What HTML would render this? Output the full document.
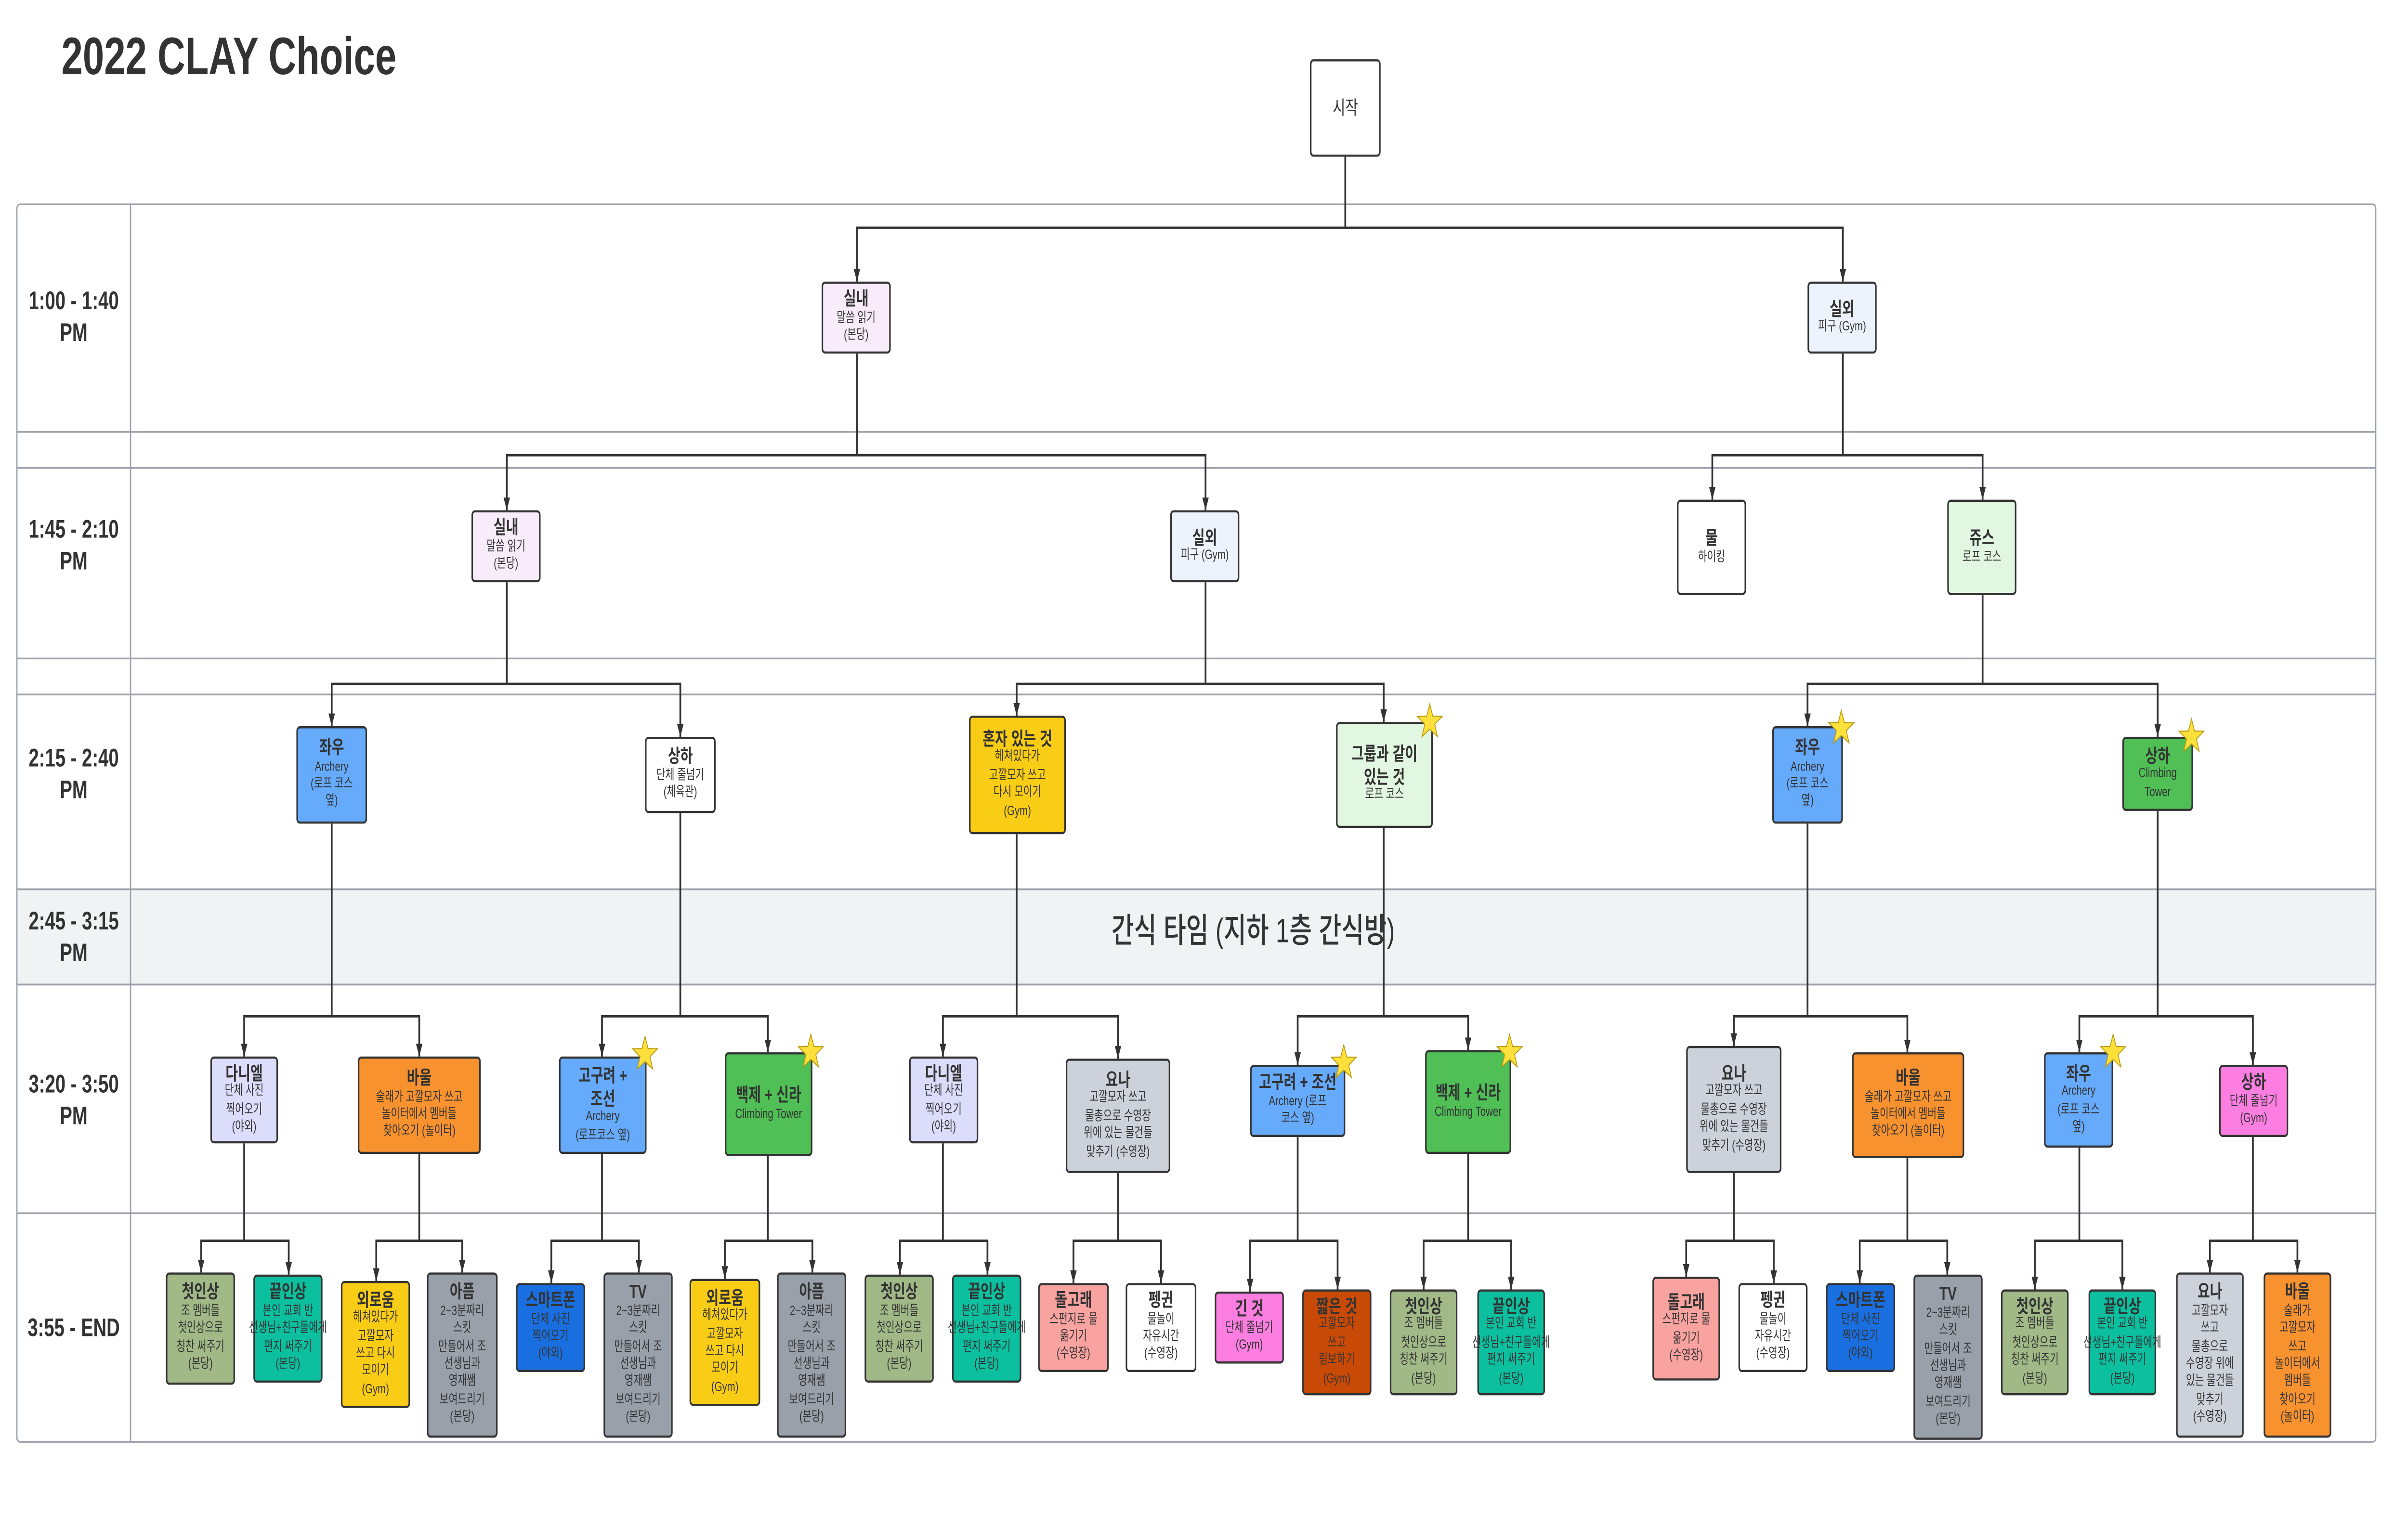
<!DOCTYPE html>
<html><head><meta charset="utf-8">
<style>
html,body{margin:0;padding:0;background:#fff;}
body{width:100vw;height:100vh;overflow:hidden;position:relative;}
#c{position:absolute;left:0;top:0;width:1568px;height:716px;transform:scale(4.3954);transform-origin:0 0;font-family:"Liberation Sans","Noto Sans CJK KR",sans-serif;color:#333;}
.n{position:absolute;box-sizing:border-box;border:1.15px solid #333;border-radius:2.2px;display:flex;flex-direction:column;justify-content:center;align-items:center;text-align:center;font-size:6.4px;line-height:8.4px;white-space:nowrap;overflow:visible;}
.n b{font-size:8.8px;line-height:10.5px;font-weight:bold;}
.lab{position:absolute;left:11px;width:74px;text-align:center;font-weight:bold;font-size:12px;line-height:15px;color:#333;}
svg{position:absolute;left:0;top:0;}
</style></head><body>
<div id="c">
<svg width="1568" height="716" viewBox="0 0 1568 716">
<defs><marker id="a" markerUnits="userSpaceOnUse" markerWidth="6" markerHeight="6" refX="6" refY="3" orient="auto" viewBox="0 0 6 6"><path d="M0,0.9 L6,3 L0,5.1 Z" fill="#333"/></marker></defs>
<g stroke="#9ba0a9" stroke-width="0.8" fill="none">
<rect x="11" y="96.5" width="1536" height="584.5" rx="2" fill="#fff"/>
<rect x="11" y="420" width="1536" height="45" fill="#f1f2f4"/>
<line x1="11" y1="204" x2="1547" y2="204"/>
<line x1="11" y1="221" x2="1547" y2="221"/>
<line x1="11" y1="311" x2="1547" y2="311"/>
<line x1="11" y1="328" x2="1547" y2="328"/>
<line x1="11" y1="420" x2="1547" y2="420"/>
<line x1="11" y1="465" x2="1547" y2="465"/>
<line x1="11" y1="573" x2="1547" y2="573"/>
<line x1="85" y1="96.5" x2="85" y2="681"/>
</g>
<g stroke="#333" stroke-width="1.15" fill="none" marker-end="url(#a)">
<path d="M876,74 V107.6 H558 V133"/><path d="M876,107.6 H1200 V133"/>
<path d="M558,167 V215 H330 V241"/><path d="M558,215 H785 V241"/>
<path d="M1200,167 V215 H1115 V236"/><path d="M1200,215 H1291 V236"/>
<path d="M330,275 V323 H216 V343"/><path d="M330,323 H443 V348"/>
<path d="M785,275 V323 H662 V338"/><path d="M785,323 H901 V341"/>
<path d="M1291,281 V323 H1177 V343"/><path d="M1291,323 H1405 V348"/>
<path d="M216,389 V480 H159 V499"/><path d="M216,480 H273 V499"/>
<path d="M443,384 V480 H392 V499"/><path d="M443,480 H500 V497"/>
<path d="M662,394 V480 H614 V499"/><path d="M662,480 H728 V500"/>
<path d="M901,391 V480 H845 V503"/><path d="M901,480 H956 V496"/>
<path d="M1177,389 V480 H1129 V494"/><path d="M1177,480 H1242 V497"/>
<path d="M1405,383 V480 H1354 V497"/><path d="M1405,480 H1467 V503"/>
<path d="M159,540 V586 H131 V601"/><path d="M159,586 H188 V602"/>
<path d="M273,545 V586 H245 V605"/><path d="M273,586 H301 V601"/>
<path d="M392,545 V586 H359 V606"/><path d="M392,586 H416 V601"/>
<path d="M500,546 V586 H472 V604"/><path d="M500,586 H529 V601"/>
<path d="M614,540 V586 H586 V602"/><path d="M614,586 H643 V602"/>
<path d="M728,554 V586 H699 V606"/><path d="M728,586 H756 V606"/>
<path d="M845,537 V586 H814 V610"/><path d="M845,586 H871 V609"/>
<path d="M956,545 V586 H927 V609"/><path d="M956,586 H984 V609"/>
<path d="M1129,554 V586 H1098 V603"/><path d="M1129,586 H1155 V606"/>
<path d="M1242,547 V586 H1211 V606"/><path d="M1242,586 H1268 V602"/>
<path d="M1354,542 V586 H1325 V609"/><path d="M1354,586 H1382 V609"/>
<path d="M1467,537 V586 H1439 V601"/><path d="M1467,586 H1496 V601"/>
</g>
</svg>

<div style="position:absolute;left:40px;top:12px;font-size:25px;font-weight:bold;line-height:30px;">2022 CLAY Choice</div>

<div class="lab" style="top:135px">1:00 - 1:40<br>PM</div>
<div class="lab" style="top:243px">1:45 - 2:10<br>PM</div>
<div class="lab" style="top:351px">2:15 - 2:40<br>PM</div>
<div class="lab" style="top:428px">2:45 - 3:15<br>PM</div>
<div class="lab" style="top:505px">3:20 - 3:50<br>PM</div>
<div class="lab" style="top:620px">3:55 - END</div>

<div style="position:absolute;left:85px;width:1462px;top:430px;text-align:center;font-size:16px;line-height:22px;font-weight:500;">간식 타임 (지하 1층 간식방)</div>

<div class="n" style="left:853px;top:28px;width:46px;height:46px;background:#fff;font-size:9px">시작</div>

<div class="n" style="left:535px;top:133px;width:45px;height:34px;background:#f8ecfb"><b>실내</b>말씀 읽기<br>(본당)</div>
<div class="n" style="left:1177px;top:133px;width:45px;height:34px;background:#edf3fc"><b>실외</b>피구 (Gym)</div>

<div class="n" style="left:307px;top:241px;width:45px;height:34px;background:#f8ecfb"><b>실내</b>말씀 읽기<br>(본당)</div>
<div class="n" style="left:762px;top:241px;width:45px;height:34px;background:#edf3fc"><b>실외</b>피구 (Gym)</div>
<div class="n" style="left:1092px;top:236px;width:45px;height:45px;background:#fff"><b>물</b>하이킹</div>
<div class="n" style="left:1268px;top:236px;width:45px;height:45px;background:#e2f7e1"><b>쥬스</b>로프 코스</div>

<div class="n" style="left:193px;top:343px;width:46px;height:46px;background:#66aafc"><b>좌우</b>Archery<br>(로프 코스<br>옆)</div>
<div class="n" style="left:420px;top:348px;width:46px;height:36px;background:#fff"><b>상하</b>단체 줄넘기<br>(체육관)</div>
<div class="n" style="left:631px;top:338px;width:63px;height:56px;background:#f9cc16"><b>혼자 있는 것</b>헤쳐있다가<br>고깔모자 쓰고<br>다시 모이기<br>(Gym)</div>
<div class="n" style="left:870px;top:341px;width:63px;height:50px;background:#e2f7e1"><b>그룹과 같이<br>있는 것</b>로프 코스</div>
<div class="n" style="left:1154px;top:343px;width:46px;height:46px;background:#66aafc"><b>좌우</b>Archery<br>(로프 코스<br>옆)</div>
<div class="n" style="left:1382px;top:348px;width:46px;height:35px;background:#4fbf56"><b>상하</b>Climbing<br>Tower</div>

<div class="n" style="left:137px;top:499px;width:44px;height:41px;background:#dcdcfb"><b>다니엘</b>단체 사진<br>찍어오기<br>(야외)</div>
<div class="n" style="left:233px;top:499px;width:80px;height:46px;background:#f8922f"><b>바울</b>술래가 고깔모자 쓰고<br>놀이터에서 멤버들<br>찾아오기 (놀이터)</div>
<div class="n" style="left:364px;top:499px;width:57px;height:46px;background:#66aafc"><b>고구려 +<br>조선</b>Archery<br>(로프코스 옆)</div>
<div class="n" style="left:472px;top:497px;width:57px;height:49px;background:#4fbf56"><b>백제 + 신라</b>Climbing Tower</div>
<div class="n" style="left:592px;top:499px;width:45px;height:41px;background:#dcdcfb"><b>다니엘</b>단체 사진<br>찍어오기<br>(야외)</div>
<div class="n" style="left:694px;top:500px;width:68px;height:54px;background:#cdd2da"><b>요나</b>고깔모자 쓰고<br>물총으로 수영장<br>위에 있는 물건들<br>맞추기 (수영장)</div>
<div class="n" style="left:814px;top:503px;width:62px;height:34px;background:#66aafc"><b>고구려 + 조선</b>Archery (로프<br>코스 옆)</div>
<div class="n" style="left:928px;top:496px;width:56px;height:49px;background:#4fbf56"><b>백제 + 신라</b>Climbing Tower</div>
<div class="n" style="left:1098px;top:494px;width:62px;height:60px;background:#cdd2da"><b>요나</b>고깔모자 쓰고<br>물총으로 수영장<br>위에 있는 물건들<br>맞추기 (수영장)</div>
<div class="n" style="left:1206px;top:497px;width:73px;height:50px;background:#f8922f"><b>바울</b>술래가 고깔모자 쓰고<br>놀이터에서 멤버들<br>찾아오기 (놀이터)</div>
<div class="n" style="left:1331px;top:497px;width:45px;height:45px;background:#66aafc"><b>좌우</b>Archery<br>(로프 코스<br>옆)</div>
<div class="n" style="left:1445px;top:503px;width:45px;height:34px;background:#fb7ee0"><b>상하</b>단체 줄넘기<br>(Gym)</div>

<div class="n" style="left:108px;top:601px;width:45px;height:53px;background:#a0b987"><b>첫인상</b>조 멤버들<br>첫인상으로<br>칭찬 써주기<br>(본당)</div>
<div class="n" style="left:165px;top:602px;width:45px;height:51px;background:#0bbf9f"><b>끝인상</b>본인 교회 반<br>선생님+친구들에게<br>편지 써주기<br>(본당)</div>
<div class="n" style="left:222px;top:605px;width:45px;height:60px;background:#f9cc16"><b>외로움</b>헤쳐있다가<br>고깔모자<br>쓰고 다시<br>모이기<br>(Gym)</div>
<div class="n" style="left:278px;top:601px;width:46px;height:78px;background:#9aa0aa"><b>아픔</b>2~3분짜리<br>스킷<br>만들어서 조<br>선생님과<br>영재쌤<br>보여드리기<br>(본당)</div>
<div class="n" style="left:336px;top:606px;width:45px;height:42px;background:#1a6fe0"><b>스마트폰</b>단체 사진<br>찍어오기<br>(야외)</div>
<div class="n" style="left:393px;top:601px;width:45px;height:78px;background:#9aa0aa"><b>TV</b>2~3분짜리<br>스킷<br>만들어서 조<br>선생님과<br>영재쌤<br>보여드리기<br>(본당)</div>
<div class="n" style="left:449px;top:604px;width:46px;height:60px;background:#f9cc16"><b>외로움</b>헤쳐있다가<br>고깔모자<br>쓰고 다시<br>모이기<br>(Gym)</div>
<div class="n" style="left:506px;top:601px;width:45px;height:78px;background:#9aa0aa"><b>아픔</b>2~3분짜리<br>스킷<br>만들어서 조<br>선생님과<br>영재쌤<br>보여드리기<br>(본당)</div>
<div class="n" style="left:563px;top:602px;width:45px;height:51px;background:#a0b987"><b>첫인상</b>조 멤버들<br>첫인상으로<br>칭찬 써주기<br>(본당)</div>
<div class="n" style="left:620px;top:602px;width:45px;height:51px;background:#0bbf9f"><b>끝인상</b>본인 교회 반<br>선생님+친구들에게<br>편지 써주기<br>(본당)</div>
<div class="n" style="left:676px;top:606px;width:46px;height:42px;background:#f9a3a0"><b>돌고래</b>스펀지로 물<br>옮기기<br>(수영장)</div>
<div class="n" style="left:733px;top:606px;width:46px;height:42px;background:#fff"><b>펭귄</b>물놀이<br>자유시간<br>(수영장)</div>
<div class="n" style="left:791px;top:610px;width:45px;height:34px;background:#fb7ee0"><b>긴 것</b>단체 줄넘기<br>(Gym)</div>
<div class="n" style="left:848px;top:609px;width:45px;height:50px;background:#c94a06"><b>짧은 것</b>고깔모자<br>쓰고<br>림보하기<br>(Gym)</div>
<div class="n" style="left:905px;top:609px;width:44px;height:50px;background:#a0b987"><b>첫인상</b>조 멤버들<br>첫인상으로<br>칭찬 써주기<br>(본당)</div>
<div class="n" style="left:962px;top:609px;width:44px;height:50px;background:#0bbf9f"><b>끝인상</b>본인 교회 반<br>선생님+친구들에게<br>편지 써주기<br>(본당)</div>
<div class="n" style="left:1076px;top:603px;width:44px;height:49px;background:#f9a3a0"><b>돌고래</b>스펀지로 물<br>옮기기<br>(수영장)</div>
<div class="n" style="left:1132px;top:606px;width:45px;height:42px;background:#fff"><b>펭귄</b>물놀이<br>자유시간<br>(수영장)</div>
<div class="n" style="left:1189px;top:606px;width:45px;height:42px;background:#1a6fe0"><b>스마트폰</b>단체 사진<br>찍어오기<br>(야외)</div>
<div class="n" style="left:1246px;top:602px;width:45px;height:78px;background:#9aa0aa"><b>TV</b>2~3분짜리<br>스킷<br>만들어서 조<br>선생님과<br>영재쌤<br>보여드리기<br>(본당)</div>
<div class="n" style="left:1303px;top:609px;width:44px;height:50px;background:#a0b987"><b>첫인상</b>조 멤버들<br>첫인상으로<br>칭찬 써주기<br>(본당)</div>
<div class="n" style="left:1360px;top:609px;width:44px;height:50px;background:#0bbf9f"><b>끝인상</b>본인 교회 반<br>선생님+친구들에게<br>편지 써주기<br>(본당)</div>
<div class="n" style="left:1417px;top:601px;width:44px;height:78px;background:#cdd2da"><b>요나</b>고깔모자<br>쓰고<br>물총으로<br>수영장 위에<br>있는 물건들<br>맞추기<br>(수영장)</div>
<div class="n" style="left:1474px;top:601px;width:44px;height:78px;background:#f8922f"><b>바울</b>술래가<br>고깔모자<br>쓰고<br>놀이터에서<br>멤버들<br>찾아오기<br>(놀이터)</div>

<svg width="1568" height="716" viewBox="0 0 1568 716">
<defs><polygon id="s" points="0,-1 0.235,-0.324 0.951,-0.309 0.380,0.124 0.588,0.809 0,0.4 -0.588,0.809 -0.380,0.124 -0.951,-0.309 -0.235,-0.324" fill="#fde03c" stroke="#b89a10" stroke-width="0.06"/></defs>
<use href="#s" transform="translate(931,341) scale(8.5)"/>
<use href="#s" transform="translate(1199,344) scale(8.5)"/>
<use href="#s" transform="translate(1427,348) scale(8.5)"/>
<use href="#s" transform="translate(420,498) scale(8.5)"/>
<use href="#s" transform="translate(528,497) scale(8.5)"/>
<use href="#s" transform="translate(875,502) scale(8.5)"/>
<use href="#s" transform="translate(983,497) scale(8.5)"/>
<use href="#s" transform="translate(1376,497) scale(8.5)"/>
</svg>
</div>
<script>
(function(){
  var w = document.documentElement.clientWidth || window.innerWidth;
  var h = document.documentElement.clientHeight || window.innerHeight;
  if (w && w > 100 && h && h > 100) {
    document.getElementById('c').style.transform = 'scale(' + (w/1568) + ',' + (h/716) + ')';
  }
})();
</script>
</body></html>
